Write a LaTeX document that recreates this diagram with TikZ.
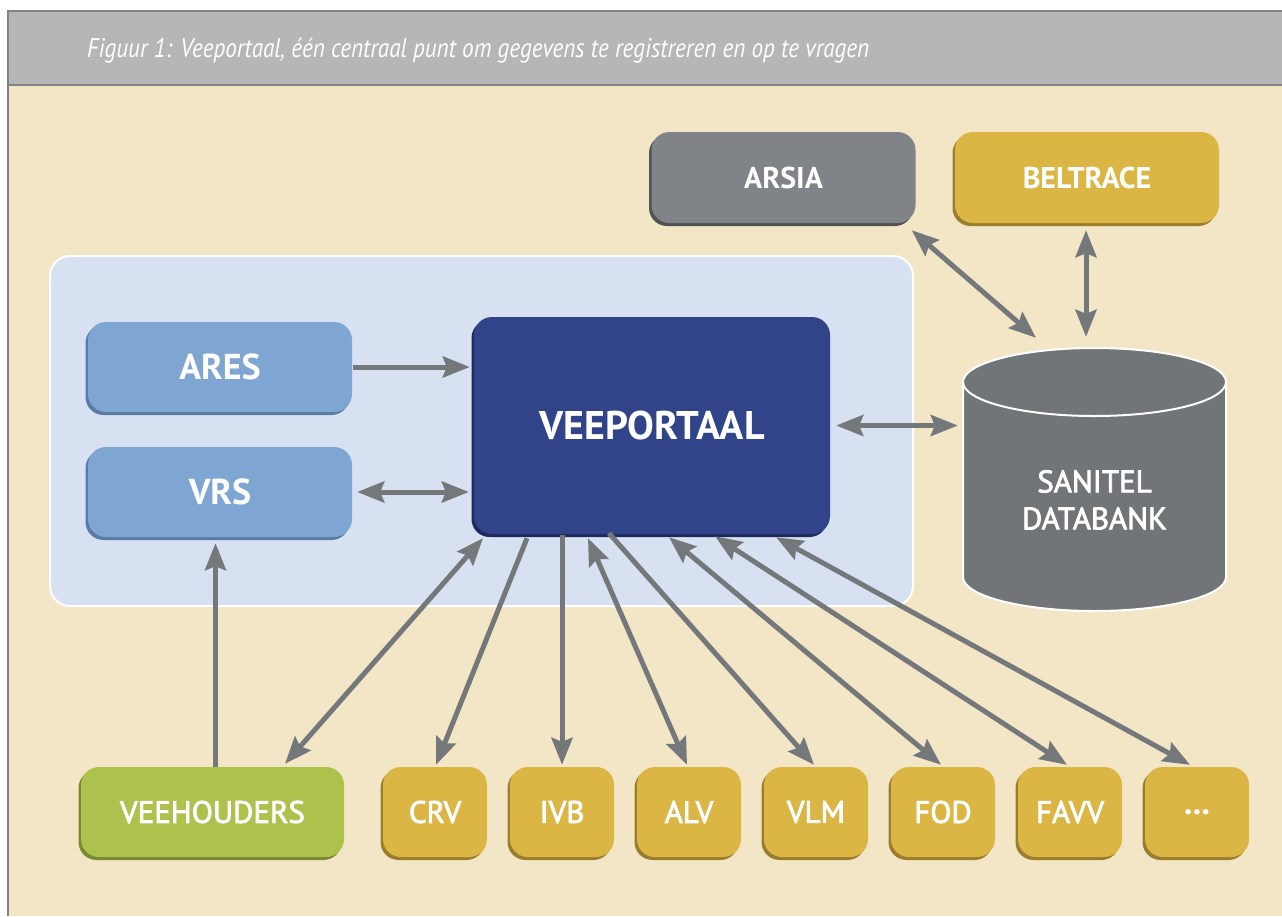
\documentclass[tikz,border=0pt]{standalone}
\usepackage{fontspec}
\setmainfont{PT Sans}
\newfontfamily\semib[FakeBold=2.5]{PT Sans}
\usetikzlibrary{arrows.meta,shadows}
\definecolor{beige}{HTML}{F3E6C6}
\definecolor{bandgray}{HTML}{B5B6B8}
\definecolor{bordergray}{HTML}{808285}
\definecolor{grpblue}{HTML}{D8E1F1}
\definecolor{lblue}{HTML}{7FA6D3}
\definecolor{lblueS}{HTML}{5A7BA6}
\definecolor{dblue}{HTML}{324489}
\definecolor{dblueS}{HTML}{1E2A5E}
\definecolor{boxgray}{HTML}{808387}
\definecolor{boxgrayS}{HTML}{505356}
\definecolor{gold}{HTML}{DBB644}
\definecolor{goldS}{HTML}{9A7E2E}
\definecolor{green}{HTML}{ADC14D}
\definecolor{greenS}{HTML}{7A8A33}
\definecolor{dbgray}{HTML}{727578}
\definecolor{arrgray}{HTML}{75787B}
\tikzset{
  rbox/.style={rounded corners=18pt, inner sep=0pt, text=white, minimum height=90pt},
  shadowed/.style={drop shadow={opacity=1, fill=#1, shadow xshift=-2.5pt, shadow yshift=-3pt}},
  sysbox/.style={rbox, fill=lblue, shadowed=lblueS, minimum width=264pt, font=\bfseries\fontsize{36}{40}\selectfont},
  partbox/.style={rbox, fill=gold, shadowed=goldS, minimum width=104pt, font=\semib\fontsize{31}{34}\selectfont},
  topbox/.style={rbox, minimum width=264pt, minimum height=91pt, font=\bfseries\fontsize{30}{34}\selectfont},
  arr/.style={draw=arrgray, line width=5pt, -{Stealth[length=27pt,width=21pt,inset=4pt]}},
  darr/.style={arr, {Stealth[length=27pt,width=21pt,inset=4pt]}-{Stealth[length=27pt,width=21pt,inset=4pt]}},
}
\begin{document}
\begin{tikzpicture}[x=1pt,y=-1pt]
\useasboundingbox (0,0) rectangle (1282,916);
\fill[white] (0,0) rectangle (1282,916);
% frame
\fill[beige] (7,86) rectangle (1282,916);
\fill[bandgray] (7,10) rectangle (1282,86);
\draw[bordergray, line width=2.5pt] (7,11) -- (1282,11);
\draw[bordergray, line width=2.5pt] (7,85) -- (1282,85);
\draw[bordergray, line width=2pt] (8,10) -- (8,916);
\node[anchor=base west, inner sep=0pt, text=white, font=\itshape\fontsize{27}{30}\selectfont] (title) at (87,57)
  {\resizebox{782pt}{\height}{Figuur 1: Veeportaal, één centraal punt om gegevens te registreren en op te vragen}};
% group container
\node[draw=white, line width=2pt, fill=grpblue, rounded corners=20pt, minimum width=863pt, minimum height=350pt] (grp) at (481.5,431) {};
% nodes
\node[sysbox] (ares) at (220,367) {ARES};
\node[sysbox] (vrs) at (220,492) {VRS};
\node[rbox, fill=dblue, shadowed=dblueS, minimum width=356pt, minimum height=217pt, font=\bfseries\fontsize{40}{44}\selectfont] (veep) at (652,425.5) {VEEPORTAAL};
\node[topbox, fill=boxgray, shadowed=boxgrayS] (arsia) at (783.5,177.5) {ARSIA};
\node[topbox, fill=gold, shadowed=goldS] (beltrace) at (1087,177.5) {BELTRACE};
\node[rbox, fill=green, shadowed=greenS, minimum width=263pt, font=\semib\fontsize{31}{34}\selectfont] (veeh) at (212.5,812) {VEEHOUDERS};
\node[partbox] (crv) at (435,812) {CRV};
\node[partbox] (ivb) at (562,812) {IVB};
\node[partbox] (alv) at (689,812) {ALV};
\node[partbox] (vlm) at (816,812) {VLM};
\node[partbox] (fod) at (943,812) {FOD};
\node[partbox] (favv) at (1070,812) {FAVV};
\node[partbox, font=\bfseries\fontsize{34}{36}\selectfont] (more) at (1197,812) {...};
% database cylinder
\filldraw[fill=dbgray, draw=white, line width=2pt]
  (963,382) -- (963,577) arc[start angle=180, end angle=360, x radius=131.5pt, y radius=34pt]
  -- (1226,382) arc[start angle=0, end angle=180, x radius=131.5pt, y radius=34pt] -- cycle;
\draw[white, line width=2pt] (963,382) arc[start angle=180, end angle=360, x radius=131.5pt, y radius=34pt];
\node[minimum width=263pt, minimum height=263pt, inner sep=0pt, text=white, align=center, font=\semib\fontsize{31}{37}\selectfont] (db) at (1094.5,479.5) {\\[26pt]SANITEL\\DATABANK};
% connectors
\draw[arr, shorten <=1pt, shorten >=4pt] (ares.east) -- (ares.east -| veep.west);
\draw[darr, shorten <=5pt, shorten >=5pt] (vrs.east) -- (vrs.east -| veep.west);
\draw[arr, shorten >=6pt] ([xshift=3pt]veeh.north) -- ([xshift=3pt]veeh.north |- vrs.south);
\draw[darr, shorten <=6pt, shorten >=5pt] (veep.east) -- (veep.east -| db.west);
\draw[darr] ([shift={(-4,7)}]arsia.south east) -- ([shift={(-58.5,-10)}]db.north);
\draw[darr] ([shift={(-1,7)}]beltrace.south) -- ([shift={(-8.5,-11)}]db.north);
\draw[darr] ([shift={(-169,4)}]veep.south) -- ([shift={(72.5,-3)}]veeh.north);
\draw[arr] ([shift={(-125,4)}]veep.south) -- ([shift={(1,-2)}]crv.north);
\draw[arr] ([shift={(-90,1)}]veep.south) -- ([shift={(0,-2)}]ivb.north);
\draw[darr] ([shift={(-64,4)}]veep.south) -- ([shift={(-2,-2)}]alv.north);
\draw[arr] ([shift={(-43,-1)}]veep.south) -- ([shift={(-2,-2)}]vlm.north);
\draw[darr] ([shift={(17,3)}]veep.south) -- ([shift={(-2,-2)}]fod.north);
\draw[darr] ([shift={(63,2)}]veep.south) -- ([shift={(-3,-2)}]favv.north);
\draw[darr] ([shift={(124,3)}]veep.south) -- ([shift={(-7,-2)}]more.north);
\end{tikzpicture}
\end{document}
